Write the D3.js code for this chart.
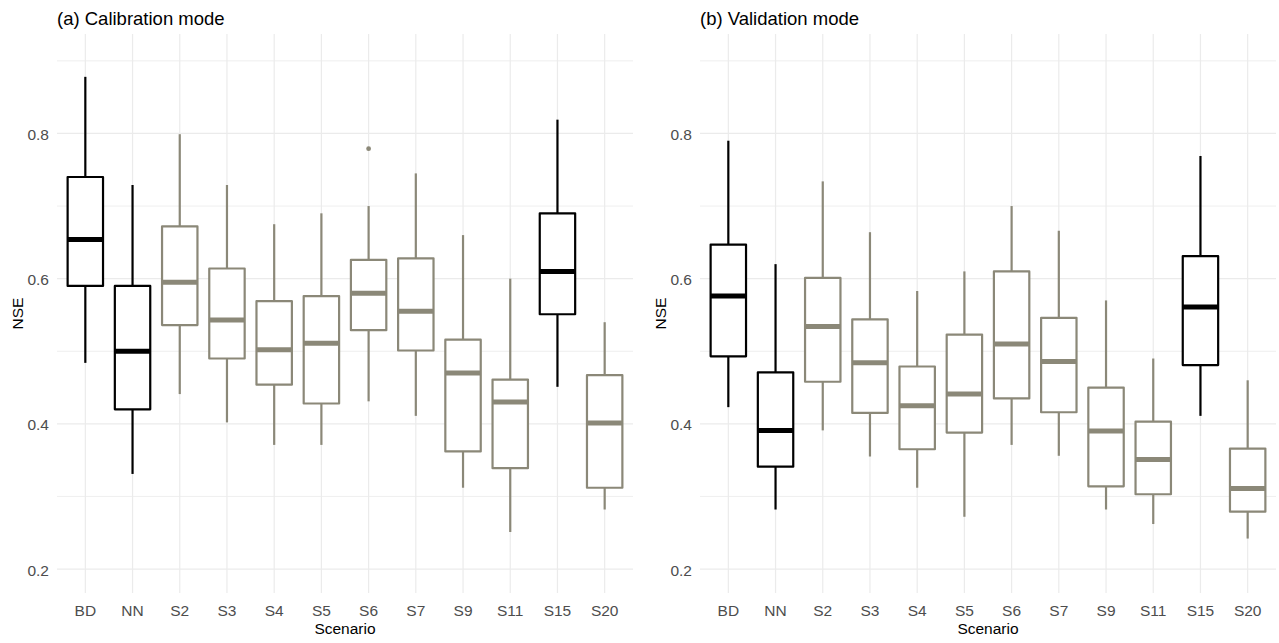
<!DOCTYPE html>
<html>
<head>
<meta charset="utf-8">
<script src="https://cdn.jsdelivr.net/npm/d3@7"></script>
<style>
  body { margin: 0; background: #fff; }
  text { font-family: "Liberation Sans", Arial, sans-serif; }
</style>
</head>
<body>
<div id="chart"></div>
<script>
// categories (scenarios)
var scenarios = ["BD", "NN", "S2", "S3", "S4", "S5", "S6", "S7", "S9", "S11", "S15", "S20"];
var blackOnes = ["BD", "NN", "S15"];

// (a) calibration mode - box stats
var calLow  = [0.484, 0.331, 0.441, 0.402, 0.371, 0.371, 0.431, 0.411, 0.312, 0.251, 0.451, 0.282];
var calQ1   = [0.590, 0.420, 0.536, 0.490, 0.454, 0.428, 0.529, 0.501, 0.362, 0.339, 0.551, 0.312];
var calMed  = [0.654, 0.500, 0.595, 0.543, 0.502, 0.511, 0.580, 0.555, 0.470, 0.430, 0.610, 0.401];
var calQ3   = [0.740, 0.590, 0.672, 0.614, 0.569, 0.576, 0.626, 0.628, 0.516, 0.461, 0.690, 0.467];
var calHigh = [0.878, 0.729, 0.799, 0.729, 0.675, 0.690, 0.700, 0.745, 0.660, 0.600, 0.819, 0.540];
var calOut  = [{s: "S6", v: 0.779}];

// (b) validation mode
var valLow  = [0.423, 0.282, 0.391, 0.355, 0.312, 0.272, 0.371, 0.356, 0.282, 0.262, 0.411, 0.242];
var valQ1   = [0.493, 0.341, 0.458, 0.415, 0.365, 0.388, 0.435, 0.416, 0.314, 0.303, 0.481, 0.279];
var valMed  = [0.576, 0.391, 0.534, 0.484, 0.425, 0.441, 0.510, 0.486, 0.390, 0.351, 0.561, 0.311];
var valQ3   = [0.647, 0.471, 0.601, 0.544, 0.479, 0.523, 0.610, 0.546, 0.450, 0.403, 0.631, 0.366];
var valHigh = [0.790, 0.620, 0.734, 0.664, 0.583, 0.610, 0.700, 0.666, 0.570, 0.490, 0.769, 0.460];
var valOut  = [];

var majorTicks = [0.2, 0.4, 0.6, 0.8];
var minorTicks = [0.3, 0.5, 0.7, 0.9];
var yLimits = [0.167, 0.937];

var W = 1279, H = 643;
var grey = "#8B8878";
var gridCol = "#EBEBEB";

var svg = d3.select("#chart").append("svg")
  .attr("width", W).attr("height", H);

var y = d3.scaleLinear().domain(yLimits).range([593, 34]);

function drawPanel(x0, x1, title, low, q1, med, q3, high, outs) {
  var g = svg.append("g");
  var x = d3.scalePoint().domain(scenarios).range([x0, x1]).padding(0.6);
  var bw = x.step() * 0.75;

  // grid
  g.selectAll("line.minor").data(minorTicks).enter().append("line")
    .attr("x1", x0).attr("x2", x1)
    .attr("y1", d => y(d)).attr("y2", d => y(d))
    .attr("stroke", gridCol).attr("stroke-width", 0.8);
  g.selectAll("line.major").data(majorTicks).enter().append("line")
    .attr("x1", x0).attr("x2", x1)
    .attr("y1", d => y(d)).attr("y2", d => y(d))
    .attr("stroke", gridCol).attr("stroke-width", 1.2);
  g.selectAll("line.vgrid").data(scenarios).enter().append("line")
    .attr("x1", d => x(d)).attr("x2", d => x(d))
    .attr("y1", y(yLimits[1])).attr("y2", y(yLimits[0]))
    .attr("stroke", gridCol).attr("stroke-width", 1.2);

  // y tick labels
  g.selectAll("text.ytick").data(majorTicks).enter().append("text")
    .attr("x", x0 - 8).attr("y", d => y(d) + 1)
    .attr("text-anchor", "end").attr("dominant-baseline", "central")
    .attr("font-size", 15.5).attr("fill", "#4D4D4D")
    .text(d => d3.format(".1f")(d));

  // x tick labels
  g.selectAll("text.xtick").data(scenarios).enter().append("text")
    .attr("x", d => x(d)).attr("y", 616)
    .attr("text-anchor", "middle")
    .attr("font-size", 15.5).attr("fill", "#4D4D4D")
    .text(d => d);

  // axis titles
  g.append("text")
    .attr("x", (x0 + x1) / 2).attr("y", 634)
    .attr("text-anchor", "middle").attr("font-size", 15.5).attr("fill", "#000")
    .text("Scenario");
  g.append("text")
    .attr("transform", "translate(" + (x0 - 34) + "," + ((y(yLimits[0]) + y(yLimits[1])) / 2) + ") rotate(-90)")
    .attr("text-anchor", "middle").attr("font-size", 15.5).attr("fill", "#000")
    .text("NSE");

  // panel title
  g.append("text")
    .attr("x", x0).attr("y", 25)
    .attr("font-size", 18.5).attr("fill", "#000")
    .text(title);

  // boxes
  scenarios.forEach(function(s, i) {
    var col = blackOnes.indexOf(s) >= 0 ? "#000" : grey;
    var cx = x(s);
    var bg = g.append("g");
    bg.append("line")
      .attr("x1", cx).attr("x2", cx)
      .attr("y1", y(high[i])).attr("y2", y(q3[i]))
      .attr("stroke", col).attr("stroke-width", 2.2);
    bg.append("line")
      .attr("x1", cx).attr("x2", cx)
      .attr("y1", y(q1[i])).attr("y2", y(low[i]))
      .attr("stroke", col).attr("stroke-width", 2.2);
    bg.append("rect")
      .attr("x", cx - bw / 2).attr("width", bw)
      .attr("y", y(q3[i])).attr("height", y(q1[i]) - y(q3[i]))
      .attr("fill", "#fff").attr("stroke", col).attr("stroke-width", 2.2)
      .attr("stroke-linejoin", "round");
    bg.append("line")
      .attr("x1", cx - bw / 2).attr("x2", cx + bw / 2)
      .attr("y1", y(med[i])).attr("y2", y(med[i]))
      .attr("stroke", col).attr("stroke-width", 5);
  });

  // outliers
  g.selectAll("circle.out").data(outs).enter().append("circle")
    .attr("cx", d => x(d.s)).attr("cy", d => y(d.v)).attr("r", 2.4)
    .attr("fill", d => blackOnes.indexOf(d.s) >= 0 ? "#000" : grey);
}

drawPanel(57, 633, "(a) Calibration mode", calLow, calQ1, calMed, calQ3, calHigh, calOut);
drawPanel(700, 1276, "(b) Validation mode", valLow, valQ1, valMed, valQ3, valHigh, valOut);
</script>
</body>
</html>
